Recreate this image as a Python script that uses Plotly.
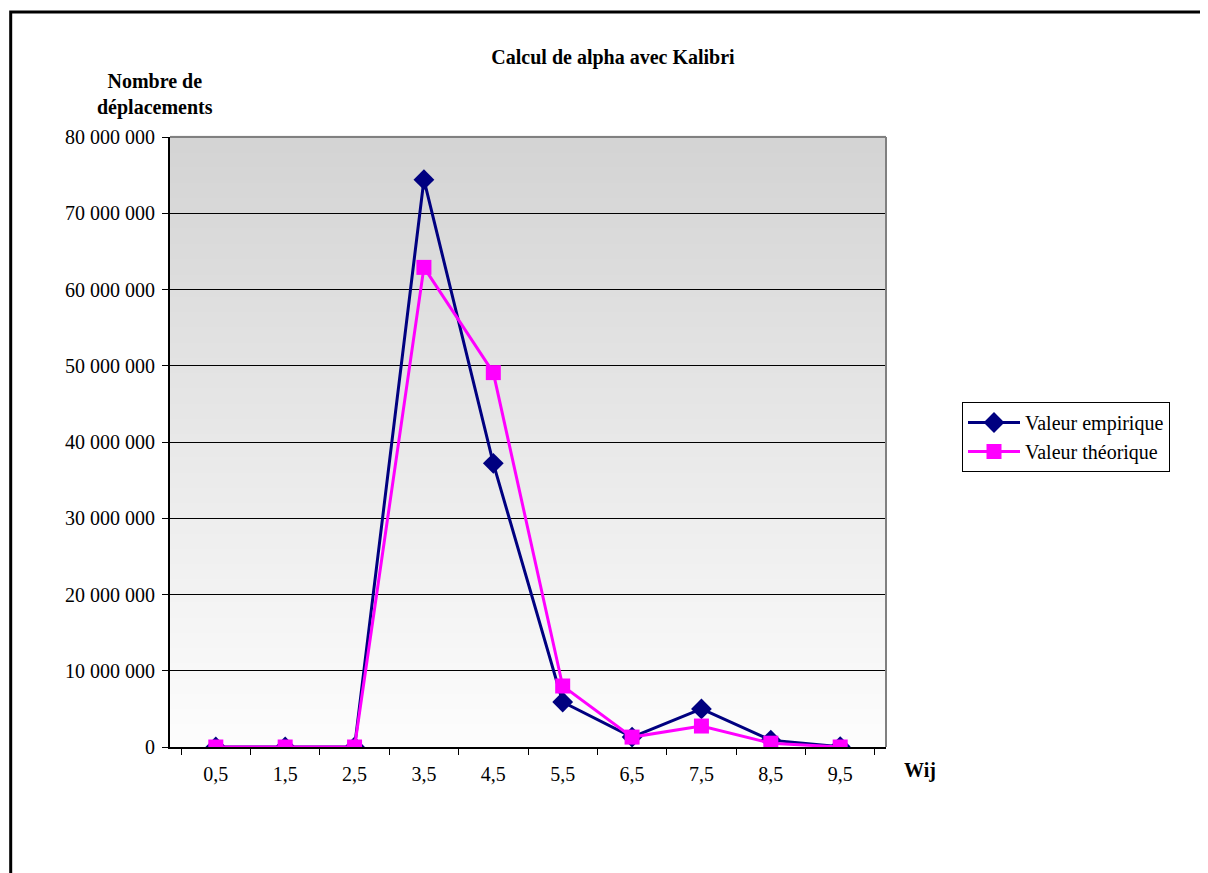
import plotly.graph_objects as go

# data
categories = ["0,5", "1,5", "2,5", "3,5", "4,5", "5,5", "6,5", "7,5", "8,5", "9,5"]
empirique = [0, 0, 0, 74400000, 37200000, 5900000, 1300000, 5000000, 900000, 50000]
theorique = [0, 0, 0, 62900000, 49100000, 8000000, 1300000, 2750000, 500000, 0]

# page has an 8px body margin, so the figure is placed at (8, 8)
W, H = 1200, 865
L, R, T, B = 162, 878, 129, 739
pw, ph = R - L, B - T

fig = go.Figure()
fig.add_trace(go.Scatter(x=categories, y=empirique, mode="lines+markers",
                         name="Valeur empirique",
                         line=dict(color="#000080", width=3),
                         marker=dict(symbol="diamond", size=16, color="#000080")))
fig.add_trace(go.Scatter(x=categories, y=theorique, mode="lines+markers",
                         name="Valeur théorique",
                         line=dict(color="#FF00FF", width=3),
                         marker=dict(symbol="square", size=15, color="#FF00FF")))

# gradient background made of thin bands (grey at top, white at bottom)
shapes = []
n = 80
for i in range(n):
    f = i / n
    g = int(round(211 + (253 - 211) * (1 - f)))
    shapes.append(dict(type="rect", xref="x domain", yref="y domain",
                       x0=0, x1=1, y0=f, y1=(i + 1) / n + 0.002,
                       fillcolor=f"rgb({g},{g},{g})", line=dict(width=0),
                       layer="below"))
# grey frame right/top of plot area
shapes.append(dict(type="line", xref="x domain", yref="y domain",
                   x0=1, x1=1, y0=0, y1=1, line=dict(color="#808080", width=2)))
shapes.append(dict(type="line", xref="x domain", yref="y domain",
                   x0=0, x1=1, y0=1, y1=1, line=dict(color="#808080", width=2)))
# outer border of the chart
shapes.append(dict(type="rect", xref="paper", yref="paper",
                   x0=(2.7 - L) / pw, x1=(1300 - L) / pw,
                   y0=(B - 950) / ph, y1=(B - 4) / ph,
                   line=dict(color="black", width=3), fillcolor="rgba(0,0,0,0)"))

font = "Liberation Serif, Times New Roman, serif"

fig.update_layout(
    width=W, height=H,
    margin=dict(l=L, r=W - R, t=T, b=H - B),
    paper_bgcolor="white",
    plot_bgcolor="rgba(0,0,0,0)",
    separators=", ",
    font=dict(family=font, size=20, color="black"),
    shapes=shapes,
    title=dict(text="<b>Calcul de alpha avec Kalibri</b>", x=605 / W, xanchor="center",
               y=1 - 49 / H, yanchor="middle", font=dict(size=20)),
    legend=dict(x=(954 - L) / pw, xanchor="left", y=(B - 394) / ph, yanchor="top",
                bordercolor="black", borderwidth=1, bgcolor="white",
                font=dict(size=20), itemwidth=52, tracegroupgap=0),
    showlegend=True,
    annotations=[
        dict(text="<b>Nombre de<br>déplacements</b>", xref="paper", yref="paper",
             x=(147 - L) / pw, y=(B - 87) / ph, xanchor="center", yanchor="middle",
             showarrow=False, font=dict(size=20)),
        dict(text="<b>Wij</b>", xref="paper", yref="paper",
             x=(912 - L) / pw, y=(B - 762) / ph, xanchor="center", yanchor="middle",
             showarrow=False, font=dict(size=20)),
    ],
)

fig.update_xaxes(type="category", tickson="boundaries", ticks="outside", ticklen=6,
                 tickcolor="black", showline=True, linecolor="black", linewidth=2,
                 showgrid=False, tickfont=dict(size=20), zeroline=False,
                 ticklabelstandoff=8)
fig.update_yaxes(range=[0, 80000000], dtick=10000000, tickformat=",d",
                 ticks="outside", ticklen=6, tickcolor="black", showline=True,
                 linecolor="black", linewidth=2, showgrid=True, gridcolor="black",
                 gridwidth=1, zeroline=False, tickfont=dict(size=20),
                 ticklabelstandoff=3)

fig.write_html("out.html")
